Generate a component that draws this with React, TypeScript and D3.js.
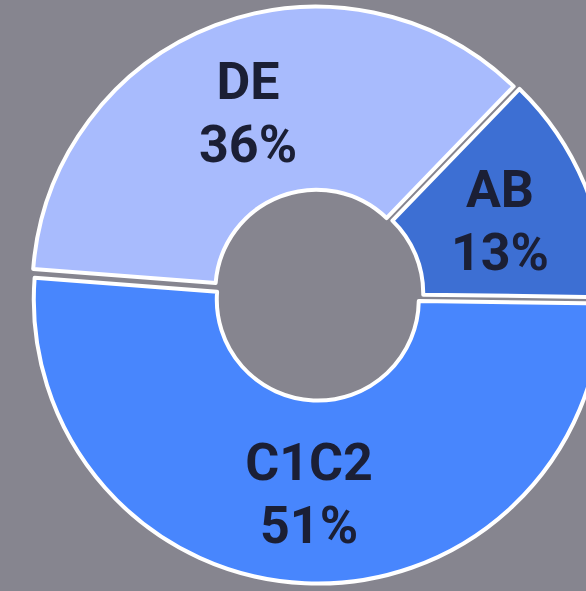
import React, { useRef, useEffect } from 'react';
import * as d3 from 'd3';

const labels = ['AB', 'C1C2', 'DE'];
const shares = [13, 51, 36];
const colors = ['#3d6fd3', '#4886fd', '#a8bbfd'];

const App = () => {
  const ref = useRef<SVGSVGElement | null>(null);

  useEffect(() => {
    const width = 586;
    const height = 591;
    const cx = 318;
    const cy = 295;
    const outer = 284;
    const inner = 101;
    const explode = 4.6;
    const start = (44 * Math.PI) / 180;

    const svg = d3.select(ref.current);
    svg.selectAll('*').remove();

    svg
      .append('rect')
      .attr('width', width)
      .attr('height', height)
      .attr('fill', '#86858f');

    const data = labels.map((l, i) => ({ label: l, value: shares[i], color: colors[i] }));

    const pie = d3
      .pie<{ label: string; value: number; color: string }>()
      .sort(null)
      .value((d) => d.value)
      .startAngle(start)
      .endAngle(start + 2 * Math.PI);

    const arc = d3
      .arc<d3.PieArcDatum<{ label: string; value: number; color: string }>>()
      .innerRadius(inner)
      .outerRadius(outer);

    const g = svg.append('g').attr('transform', `translate(${cx}, ${cy})`);

    const slices = g
      .selectAll('g.slice')
      .data(pie(data))
      .join('g')
      .attr('class', 'slice')
      .attr('transform', (d) => {
        const mid = (d.startAngle + d.endAngle) / 2;
        return `translate(${explode * Math.sin(mid)}, ${-explode * Math.cos(mid)})`;
      });

    slices
      .append('path')
      .attr('d', arc)
      .attr('fill', (d) => d.data.color)
      .attr('stroke', '#ffffff')
      .attr('stroke-width', 4)
      .attr('stroke-linejoin', 'round');

    const text = slices
      .append('text')
      .attr('transform', (d) => {
        const [x, y] = arc.centroid(d);
        return `translate(${x}, ${y})`;
      })
      .attr('text-anchor', 'middle')
      .attr('font-family', 'Roboto, sans-serif')
      .attr('font-weight', 'bold')
      .attr('font-size', 52)
      .attr('fill', '#1b1f35');

    text
      .append('tspan')
      .attr('x', 0)
      .attr('y', -12)
      .text((d) => d.data.label);

    text
      .append('tspan')
      .attr('x', 0)
      .attr('y', 51)
      .text((d) => `${d.data.value}%`);
  }, []);

  return (
    <svg
      ref={ref}
      width={586}
      height={591}
      style={{ position: 'absolute', left: 0, top: 0, display: 'block' }}
    />
  );
};

export default App;
